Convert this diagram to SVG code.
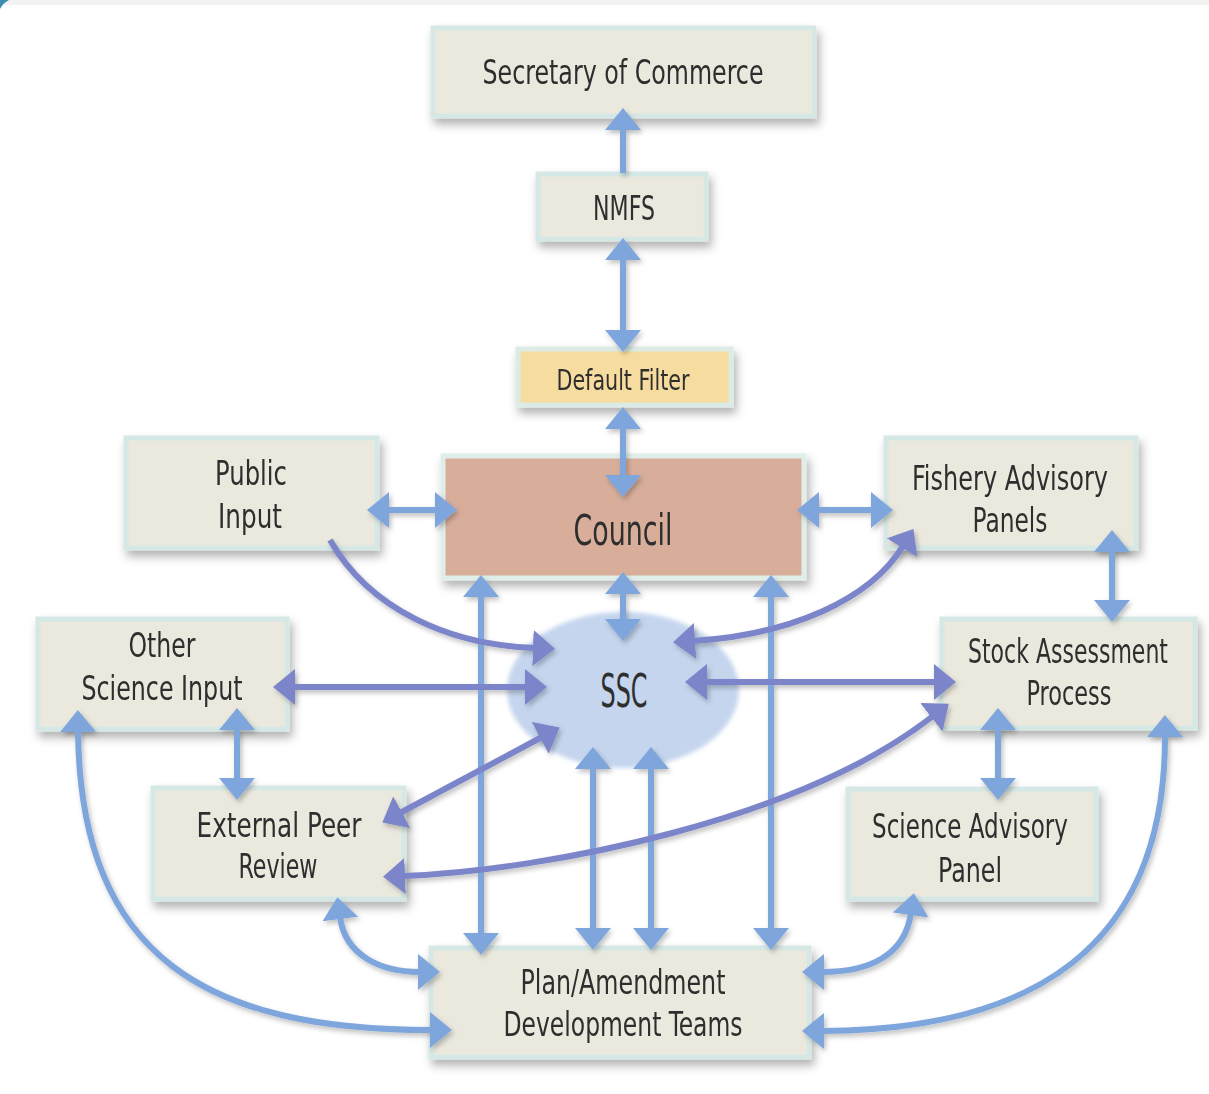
<svg xmlns="http://www.w3.org/2000/svg" width="1209" height="1094" viewBox="0 0 1209 1094">
<style>
.node rect{fill:#ebe9de;stroke:#d6e8e5;stroke-width:5}
text{font-family:"Liberation Sans Narrow","DejaVu Sans Condensed","Liberation Sans",sans-serif;fill:#2f2f2f;text-anchor:middle}
.t{font-size:33px}
.lb{fill:none;stroke:#7ea6dc;stroke-width:6}
.pu{fill:none;stroke:#7b85c9;stroke-width:6}
</style>
<defs>
<filter id="sh" x="-20%" y="-20%" width="140%" height="150%"><feDropShadow dx="3" dy="6" stdDeviation="5" flood-color="#000" flood-opacity="0.3"/></filter>
<filter id="ash" x="-20%" y="-20%" width="140%" height="140%"><feDropShadow dx="2" dy="3" stdDeviation="2.5" flood-color="#000" flood-opacity="0.25"/></filter>
<filter id="blur" x="-20%" y="-20%" width="140%" height="140%"><feGaussianBlur stdDeviation="2"/></filter>
<marker id="ab" markerUnits="userSpaceOnUse" markerWidth="24" markerHeight="38" viewBox="0 0 24 38" refX="2" refY="18" orient="auto-start-reverse"><path d="M0,0 L22,18 L0,36 Z" fill="#7ea6dc"/></marker>
<marker id="ap" markerUnits="userSpaceOnUse" markerWidth="24" markerHeight="38" viewBox="0 0 24 38" refX="2" refY="18" orient="auto-start-reverse"><path d="M0,0 L22,18 L0,36 Z" fill="#7b85c9"/></marker>
</defs>
<rect width="1209" height="1094" fill="#ffffff"/>
<rect width="1209" height="5" fill="#f2f2f2"/>
<path d="M0,0 L9,0 Q3,3 0,9 Z" fill="#3a8fb0"/>

<g id="n-secretary" class="node" filter="url(#sh)"><rect x="433" y="28" width="381" height="88"/><text class="t" x="623" y="84" font-size="30" textLength="281" lengthAdjust="spacingAndGlyphs">Secretary of Commerce</text></g>
<g id="n-nmfs" class="node" filter="url(#sh)"><rect x="538" y="174" width="168" height="65"/><text class="t" x="624" y="220" textLength="62" lengthAdjust="spacingAndGlyphs">NMFS</text></g>
<g id="n-filter" class="node" filter="url(#sh)"><rect x="518" y="349" width="213" height="56" style="fill:#f6dc9e;stroke:#dcebe5"/><text x="623" y="390" font-size="29" textLength="133" lengthAdjust="spacingAndGlyphs">Default Filter</text></g>
<g id="n-council" class="node" filter="url(#sh)"><rect x="443" y="456" width="361" height="122" style="fill:#d8ae9b;stroke:#dfeee9"/><text x="623" y="545" font-size="42" textLength="99" lengthAdjust="spacingAndGlyphs">Council</text></g>
<g id="n-public" class="node" filter="url(#sh)"><rect x="126" y="438" width="251" height="110"/><text class="t" x="251" y="485" textLength="72" lengthAdjust="spacingAndGlyphs">Public</text><text class="t" x="250" y="528" textLength="64" lengthAdjust="spacingAndGlyphs">Input</text></g>
<g id="n-fishery" class="node" filter="url(#sh)"><rect x="886" y="438" width="250" height="110"/><text class="t" x="1010" y="490" textLength="196" lengthAdjust="spacingAndGlyphs">Fishery Advisory</text><text class="t" x="1010" y="532" textLength="75" lengthAdjust="spacingAndGlyphs">Panels</text></g>
<g id="n-other" class="node" filter="url(#sh)"><rect x="38" y="619" width="249" height="110"/><text class="t" x="162" y="657" textLength="67" lengthAdjust="spacingAndGlyphs">Other</text><text class="t" x="162" y="700" textLength="161" lengthAdjust="spacingAndGlyphs">Science Input</text></g>
<g id="n-stock" class="node" filter="url(#sh)"><rect x="942" y="619" width="253" height="109"/><text class="t" x="1068" y="663" textLength="200" lengthAdjust="spacingAndGlyphs">Stock Assessment</text><text class="t" x="1069" y="705" textLength="85" lengthAdjust="spacingAndGlyphs">Process</text></g>
<g id="n-ssc"><ellipse cx="623" cy="690" rx="116" ry="78" fill="#c5d5ee" filter="url(#blur)"/><text x="624" y="707" font-size="46" textLength="47" lengthAdjust="spacingAndGlyphs">SSC</text></g>
<g id="n-external" class="node" filter="url(#sh)"><rect x="153" y="788" width="251" height="111"/><text class="t" x="279" y="837" textLength="165" lengthAdjust="spacingAndGlyphs">External Peer</text><text class="t" x="278" y="878" textLength="79" lengthAdjust="spacingAndGlyphs">Review</text></g>
<g id="n-sciadv" class="node" filter="url(#sh)"><rect x="848" y="789" width="248" height="110"/><text class="t" x="970" y="838" textLength="196" lengthAdjust="spacingAndGlyphs">Science Advisory</text><text class="t" x="970" y="882" textLength="64" lengthAdjust="spacingAndGlyphs">Panel</text></g>
<g id="n-plan" class="node" filter="url(#sh)"><rect x="431" y="948" width="378" height="109"/><text class="t" x="623" y="994" textLength="205" lengthAdjust="spacingAndGlyphs">Plan/Amendment</text><text class="t" x="623" y="1036" textLength="239" lengthAdjust="spacingAndGlyphs">Development Teams</text></g>

<g id="connectors" filter="url(#ash)">
<path class="lb" d="M623,173 L623,128" marker-end="url(#ab)"/>
<path class="lb" d="M623,258 L623,332" marker-start="url(#ab)" marker-end="url(#ab)"/>
<path class="lb" d="M623,427 L623,477" marker-start="url(#ab)" marker-end="url(#ab)"/>
<path class="lb" d="M387,510 L437,510" marker-start="url(#ab)" marker-end="url(#ab)"/>
<path class="lb" d="M817,510 L873,510" marker-start="url(#ab)" marker-end="url(#ab)"/>
<path class="lb" d="M623,592 L623,621" marker-start="url(#ab)" marker-end="url(#ab)"/>
<path class="lb" d="M1112,550 L1112,602" marker-start="url(#ab)" marker-end="url(#ab)"/>
<path class="lb" d="M237,728 L237,780" marker-start="url(#ab)" marker-end="url(#ab)"/>
<path class="lb" d="M998,728 L998,780" marker-start="url(#ab)" marker-end="url(#ab)"/>
<path class="lb" d="M481,595 L481,935" marker-start="url(#ab)" marker-end="url(#ab)"/>
<path class="lb" d="M771,595 L771,930" marker-start="url(#ab)" marker-end="url(#ab)"/>
<path class="lb" d="M593,767 L593,930" marker-start="url(#ab)" marker-end="url(#ab)"/>
<path class="lb" d="M651,767 L651,930" marker-start="url(#ab)" marker-end="url(#ab)"/>
<path class="pu" d="M293,687 L527,687" marker-start="url(#ap)" marker-end="url(#ap)"/>
<path class="pu" d="M705,682 L936,682" marker-start="url(#ap)" marker-end="url(#ap)"/>
<path class="pu" d="M330,540 C370,610 450,645 535,648" marker-end="url(#ap)"/>
<path class="pu" d="M693,641 C790,635 870,600 903,546" marker-start="url(#ap)" marker-end="url(#ap)"/>
<path class="pu" d="M400,813 L542,737" marker-start="url(#ap)" marker-end="url(#ap)"/>
<path class="pu" d="M403,876 C550,870 800,820 933,716" marker-start="url(#ap)" marker-end="url(#ap)"/>
<path class="lb" d="M340,917 C345,955 380,972 420,972" marker-start="url(#ab)" marker-end="url(#ab)"/>
<path class="lb" d="M78,730 C80,960 210,1030 432,1030" marker-start="url(#ab)" marker-end="url(#ab)"/>
<path class="lb" d="M911,913 C905,955 870,972 822,972" marker-start="url(#ab)" marker-end="url(#ab)"/>
<path class="lb" d="M1165,735 C1166,950 1030,1030 822,1031" marker-start="url(#ab)" marker-end="url(#ab)"/>
</g>
</svg>
